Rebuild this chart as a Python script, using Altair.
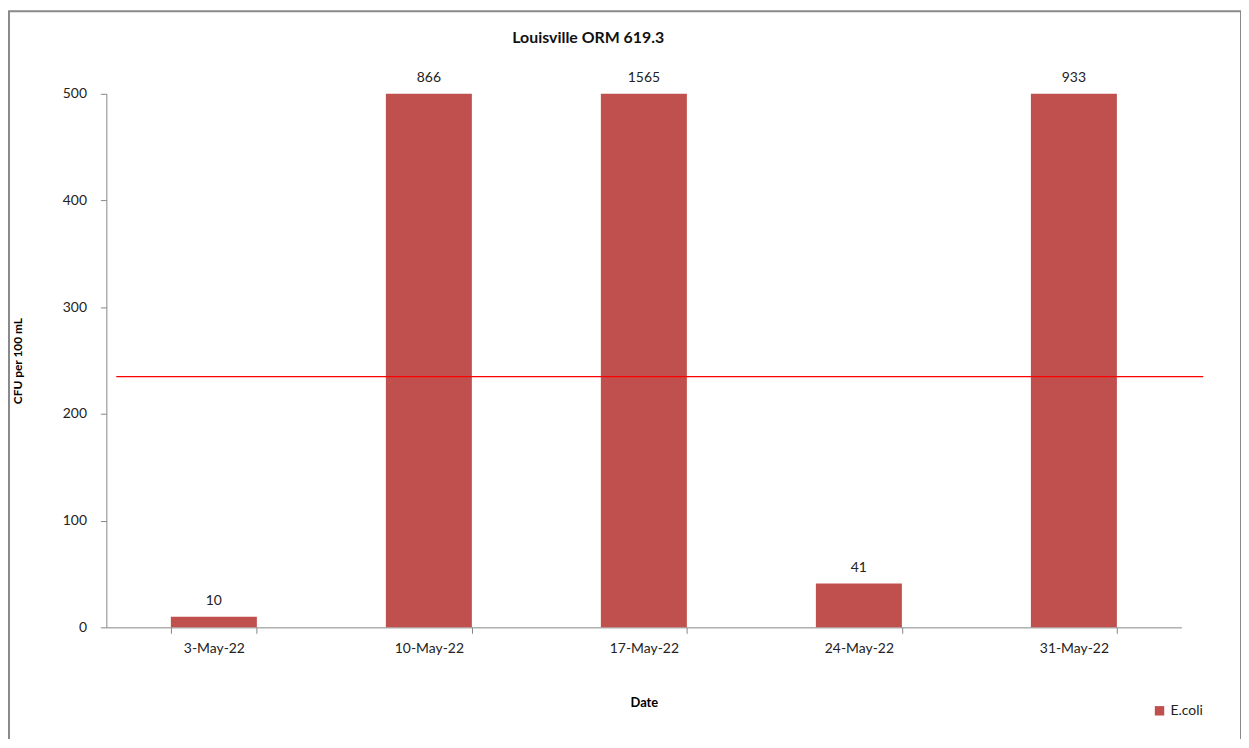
import altair as alt
import pandas as pd

dates = ["3-May-22", "10-May-22", "17-May-22", "24-May-22", "31-May-22"]
ecoli = [10, 866, 1565, 41, 933]
series_name = "E.coli"
standard = [235]

df = pd.DataFrame({"Date": dates, "Value": ecoli, "Series": [series_name] * len(dates)})
ref = pd.DataFrame({"limit": standard})

W, H = 1082, 537
FONT = "Lato"
AX = "#868686"

x_enc = alt.X("Date:N", sort=dates, title="Date",
              scale=alt.Scale(paddingInner=0.6, paddingOuter=0.3),
              axis=alt.Axis(labelAngle=0, tickBand="extent", tickSize=6,
                            labelPadding=8, titlePadding=42, domainColor=AX,
                            tickColor=AX, labelFontSize=14, labelColor="#222",
                            titleFontSize=13, titleFontWeight="bold",
                            labelFont=FONT, titleFont=FONT))
y_scale = alt.Scale(domain=[0, 500], clamp=True, nice=False)

bars = alt.Chart(df).mark_bar(color="#C0504D").encode(
    x=x_enc,
    y=alt.Y("Value:Q", scale=y_scale, title="CFU per 100 mL",
            axis=alt.Axis(values=[0, 100, 200, 300, 400, 500], grid=False,
                          tickSize=6, labelPadding=14, titlePadding=38,
                          domainColor=AX, tickColor=AX, labelFontSize=14,
                          labelColor="#222", titleFontSize=12,
                          titleFontWeight="bold", labelFont=FONT, titleFont=FONT)),
    color=alt.Color("Series:N", scale=alt.Scale(range=["#C0504D"]),
                    legend=alt.Legend(title=None, orient="none", legendX=1053,
                                      legendY=614, symbolType="square",
                                      symbolSize=90, labelFontSize=14,
                                      labelFont=FONT, labelColor="#222")),
)

labels = alt.Chart(df).mark_text(baseline="bottom", dy=-9, fontSize=14,
                                 font=FONT, color="#222").encode(
    x=alt.X("Date:N", sort=dates),
    y=alt.Y("Value:Q", scale=y_scale),
    text=alt.Text("Value:Q"),
)

line = alt.Chart(ref).mark_rule(color="#FF0000", strokeWidth=1.3).encode(
    y=alt.Y("limit:Q", scale=y_scale),
    x=alt.value(10),
    x2=alt.value(W + 22),
)

border = alt.Chart(ref).mark_rect(fill=None, stroke="#898989", strokeWidth=2).encode(
    x=alt.value(-98), y=alt.value(-83), x2=alt.value(W + 60), y2=alt.value(H + 120),
)

chart = alt.layer(border, bars, labels, line).properties(
    width=W, height=H,
    title=alt.TitleParams("Louisville ORM 619.3", fontSize=16, fontWeight="bold",
                          font=FONT, anchor="middle", dx=-56, offset=0, dy=36,
                          color="#111"),
    autosize=alt.AutoSizeParams(type="none"),
    padding={"left": 99, "top": 84, "right": 60, "bottom": 110},
).configure(background="white").configure_view(stroke=None)

chart.save("out.html", embed_options={"renderer": "svg", "actions": False})
